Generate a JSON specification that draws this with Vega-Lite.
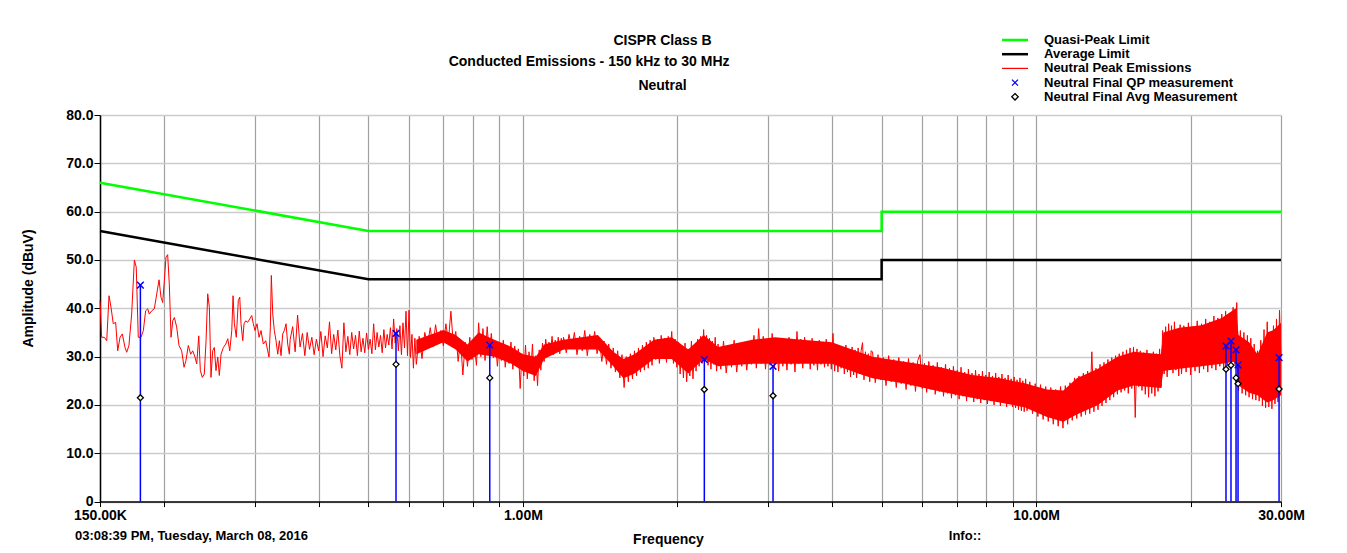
{
"$schema": "https://vega.github.io/schema/vega-lite/v6.json",
"width": 1181, "height": 386.6,
"autosize": {"type": "none"},
"padding": {"left": 100, "top": 115, "right": 66, "bottom": 51.4},
"background": "white",
"config": {"font": "Liberation Sans", "view": {"stroke": null}},
"title": {"text": ["CISPR Class B", "Neutral"], "font": "Liberation Sans", "fontSize": 14, "fontWeight": "bold", "color": "black", "lineHeight": 45, "anchor": "middle", "dx": -28, "offset": -59},
"datasets": {
"limits": [
{"series":"Quasi-Peak Limit","f":0.15,"v":66,"seq":1},
{"series":"Quasi-Peak Limit","f":0.5,"v":56,"seq":2},
{"series":"Quasi-Peak Limit","f":5,"v":56,"seq":3},
{"series":"Quasi-Peak Limit","f":5,"v":60,"seq":4},
{"series":"Quasi-Peak Limit","f":30,"v":60,"seq":5},
{"series":"Average Limit","f":0.15,"v":56,"seq":1},
{"series":"Average Limit","f":0.5,"v":46,"seq":2},
{"series":"Average Limit","f":5,"v":46,"seq":3},
{"series":"Average Limit","f":5,"v":50,"seq":4},
{"series":"Average Limit","f":30,"v":50,"seq":5}
],
"meas": [
{"f":0.1798,"qp":44.8,"avg":21.5},
{"f":0.566,"qp":34.8,"avg":28.4},
{"f":0.862,"qp":32.4,"avg":25.6},
{"f":2.257,"qp":29.4,"avg":23.2},
{"f":3.072,"qp":28.0,"avg":21.9},
{"f":23.44,"qp":32.2,"avg":27.4},
{"f":23.97,"qp":33.2,"avg":28.2},
{"f":24.52,"qp":31.4,"avg":25.6},
{"f":24.74,"qp":28.3,"avg":24.4},
{"f":29.74,"qp":29.8,"avg":23.3}
],
"band": [
{"f":0.62,"lo":30.5,"hi":33.5},{"f":0.7,"lo":33,"hi":35.5},{"f":0.74,"lo":31.5,"hi":34.5},{"f":0.78,"lo":29,"hi":32.5},{"f":0.82,"lo":30.5,"hi":35},{"f":0.88,"lo":30,"hi":33.5},{"f":0.95,"lo":28.5,"hi":32},{"f":1.0,"lo":27,"hi":30.5},{"f":1.06,"lo":26,"hi":30},{"f":1.1,"lo":29.5,"hi":32.5},{"f":1.2,"lo":31.5,"hi":33.5},{"f":1.4,"lo":31.5,"hi":34.5},{"f":1.5,"lo":28,"hi":31},{"f":1.57,"lo":25.5,"hi":29.5},{"f":1.65,"lo":26.5,"hi":30.5},{"f":1.8,"lo":29.5,"hi":33.5},{"f":1.95,"lo":29.5,"hi":34},{"f":2.1,"lo":26.5,"hi":31.5},{"f":2.25,"lo":29.5,"hi":34.5},{"f":2.4,"lo":28,"hi":32},{"f":2.8,"lo":28.5,"hi":33.5},{"f":3.1,"lo":28.5,"hi":34},{"f":3.5,"lo":28.5,"hi":33.5},{"f":4.0,"lo":28.5,"hi":33},{"f":4.5,"lo":26.5,"hi":31},{"f":4.8,"lo":25.5,"hi":30},{"f":5.5,"lo":24.5,"hi":29},{"f":6.5,"lo":22.8,"hi":27.8},{"f":7.5,"lo":21.5,"hi":26.2},{"f":8.5,"lo":20.5,"hi":25.5},{"f":9.5,"lo":19.5,"hi":24.5},{"f":10.5,"lo":17.5,"hi":23.2},{"f":11.3,"lo":16.5,"hi":23},{"f":12.0,"lo":18,"hi":25.5},{"f":13.2,"lo":20,"hi":27.5},{"f":14.4,"lo":23,"hi":30},{"f":15.5,"lo":24,"hi":31},{"f":17.5,"lo":23.5,"hi":30.5},{"f":17.7,"lo":27,"hi":35},{"f":19,"lo":27.5,"hi":36},{"f":21,"lo":28,"hi":36.5},{"f":23,"lo":28.5,"hi":38},{"f":24.5,"lo":29,"hi":40},{"f":24.8,"lo":24,"hi":34.5},{"f":26,"lo":22.5,"hi":33},{"f":27,"lo":22,"hi":30.5},{"f":28.2,"lo":20.5,"hi":35},{"f":29,"lo":21,"hi":35.5},{"f":30,"lo":22,"hi":37}
],
"peak": [
{"f":0.15,"v":41.6},{"f":0.1511,"v":34},{"f":0.1529,"v":34},{"f":0.1546,"v":33.3},{"f":0.1562,"v":42.6},{"f":0.1576,"v":40.2},{"f":0.1592,"v":36.8},{"f":0.1609,"v":37.1},{"f":0.1624,"v":31.2},{"f":0.1641,"v":34},{"f":0.1658,"v":34.7},{"f":0.1678,"v":31.9},{"f":0.1691,"v":30.9},{"f":0.1708,"v":32.3},{"f":0.1729,"v":38.8},{"f":0.175,"v":50},{"f":0.1765,"v":48.5},{"f":0.1781,"v":34},{"f":0.1803,"v":34},{"f":0.1822,"v":35.4},{"f":0.1841,"v":39.5},{"f":0.1858,"v":39.9},{"f":0.1871,"v":38.8},{"f":0.1892,"v":39.5},{"f":0.1914,"v":39.9},{"f":0.1935,"v":43},{"f":0.1955,"v":45.9},{"f":0.1972,"v":42.3},{"f":0.1987,"v":41.2},{"f":0.2002,"v":45.7},{"f":0.2017,"v":50.6},{"f":0.2032,"v":51.1},{"f":0.2047,"v":45},{"f":0.2063,"v":34},{"f":0.2079,"v":37.4},{"f":0.2094,"v":38.1},{"f":0.2116,"v":36.1},{"f":0.2138,"v":32.3},{"f":0.2164,"v":31.2},{"f":0.2187,"v":27.8},{"f":0.2206,"v":29.2},{"f":0.2229,"v":32.3},{"f":0.2253,"v":30.5},{"f":0.2274,"v":31.2},{"f":0.2297,"v":29.9},{"f":0.2315,"v":28.5},{"f":0.2336,"v":34.3},{"f":0.2353,"v":27.1},{"f":0.2374,"v":25.7},{"f":0.2395,"v":26.4},{"f":0.2414,"v":33.3},{"f":0.2432,"v":43},{"f":0.245,"v":40.2},{"f":0.2468,"v":25.7},{"f":0.2487,"v":31.2},{"f":0.2505,"v":31.9},{"f":0.2524,"v":27.1},{"f":0.2544,"v":29.9},{"f":0.2562,"v":26.1},{"f":0.2582,"v":30.5},{"f":0.2609,"v":31.9},{"f":0.2637,"v":32.6},{"f":0.2661,"v":33.7},{"f":0.2685,"v":31.2},{"f":0.2709,"v":35.4},{"f":0.2725,"v":42.6},{"f":0.2741,"v":36.8},{"f":0.2765,"v":34},{"f":0.279,"v":41.6},{"f":0.2808,"v":42.3},{"f":0.2824,"v":36.8},{"f":0.2846,"v":33.3},{"f":0.2862,"v":36.8},{"f":0.2884,"v":37.4},{"f":0.291,"v":37.1},{"f":0.2937,"v":37.8},{"f":0.2963,"v":38.5},{"f":0.2984,"v":36.8},{"f":0.3007,"v":35.4},{"f":0.3034,"v":36.8},{"f":0.3062,"v":34},{"f":0.3089,"v":35.4},{"f":0.3121,"v":32.6},{"f":0.3155,"v":33.3},{"f":0.3183,"v":31.2},{"f":0.3202,"v":29.9},{"f":0.3221,"v":36.1},{"f":0.3235,"v":46.8},{"f":0.3256,"v":38.8},{"f":0.3279,"v":35.4},{"f":0.3304,"v":33.3},{"f":0.333,"v":30.5},{"f":0.3354,"v":33.3},{"f":0.3379,"v":30.2},{"f":0.3405,"v":34.7},{"f":0.343,"v":35.4},{"f":0.3456,"v":36.8},{"f":0.3482,"v":32.6},{"f":0.3508,"v":30.5},
{"f":0.352,"v":33.5},{"f":0.356,"v":36.2},{"f":0.36,"v":31},{"f":0.364,"v":38.6},{"f":0.368,"v":32},{"f":0.372,"v":34.8},{"f":0.376,"v":30.2},{"f":0.38,"v":35},{"f":0.384,"v":31.5},{"f":0.388,"v":34},{"f":0.392,"v":30.4},{"f":0.396,"v":33.6},{"f":0.4,"v":31.2},{"f":0.404,"v":35.2},{"f":0.408,"v":30},{"f":0.412,"v":34.3},{"f":0.416,"v":31.8},{"f":0.42,"v":37.2},{"f":0.424,"v":30.6},{"f":0.428,"v":34.6},{"f":0.432,"v":31.4},{"f":0.436,"v":35.5},{"f":0.44,"v":30.2},{"f":0.444,"v":27.6},{"f":0.448,"v":37},{"f":0.452,"v":31},{"f":0.456,"v":34.2},{"f":0.46,"v":30.4},{"f":0.464,"v":35},{"f":0.468,"v":31.6},{"f":0.472,"v":34.4},{"f":0.476,"v":30.2},{"f":0.48,"v":35.3},{"f":0.484,"v":31},{"f":0.488,"v":33.8},{"f":0.492,"v":30.8},{"f":0.496,"v":34.9},{"f":0.5,"v":31.5},{"f":0.504,"v":33.6},{"f":0.508,"v":30.6},{"f":0.512,"v":36.8},{"f":0.516,"v":31.4},{"f":0.52,"v":35},{"f":0.524,"v":32},{"f":0.528,"v":34.4},{"f":0.532,"v":30.8},{"f":0.536,"v":35.6},{"f":0.54,"v":31.8},{"f":0.544,"v":34.6},{"f":0.548,"v":32.4},{"f":0.552,"v":36},{"f":0.556,"v":31.6},{"f":0.56,"v":37.8},{"f":0.564,"v":32.8},{"f":0.568,"v":35.8},{"f":0.572,"v":31.2},{"f":0.576,"v":36.4},{"f":0.58,"v":30.4},{"f":0.584,"v":37},{"f":0.588,"v":31.8},{"f":0.592,"v":39.4},{"f":0.596,"v":30.2},{"f":0.6,"v":39.6},{"f":0.604,"v":29.8},{"f":0.608,"v":34.6},{"f":0.612,"v":27.6},{"f":0.616,"v":33.8},{"f":0.62,"v":28.4},
{"f":0.628,"v":34.2},{"f":0.636,"v":29.6},{"f":0.644,"v":35},{"f":0.652,"v":32.4},{"f":0.66,"v":36},{"f":0.668,"v":32},{"f":0.676,"v":36.6},{"f":0.684,"v":33},{"f":0.692,"v":35.4},{"f":0.7,"v":32.2},{"f":0.708,"v":36.8},{"f":0.716,"v":33.2},{"f":0.724,"v":39.4},{"f":0.732,"v":32.6},{"f":0.74,"v":35.2},{"f":0.748,"v":29},{"f":0.756,"v":33.6},{"f":0.764,"v":26.2},{"f":0.772,"v":33},{"f":0.78,"v":28},{"f":0.788,"v":34},{"f":0.796,"v":29.4},{"f":0.804,"v":32.6},{"f":0.812,"v":28.2},{"f":0.82,"v":37},{"f":0.828,"v":30},{"f":0.836,"v":35.8},{"f":0.844,"v":29.2},{"f":0.852,"v":36.2},{"f":0.86,"v":30.6},{"f":0.868,"v":34.8},{"f":0.876,"v":29.8},{"f":0.884,"v":33.2},{"f":0.892,"v":28},{"f":0.9,"v":32.8},{"f":0.908,"v":29.2},{"f":0.916,"v":33.4},{"f":0.924,"v":27.8},{"f":0.932,"v":31.8},{"f":0.94,"v":28.6},{"f":0.948,"v":33},{"f":0.956,"v":27.4},{"f":0.964,"v":32.2},{"f":0.972,"v":28.8},{"f":0.98,"v":31.6},{"f":0.988,"v":23.4},{"f":0.996,"v":30.6},{"f":1.004,"v":26},{"f":1.012,"v":32.4},{"f":1.02,"v":25.4},{"f":1.028,"v":31},{"f":1.036,"v":26.6},{"f":1.044,"v":32.6},{"f":1.052,"v":25},{"f":1.06,"v":30.2},{"f":1.068,"v":24},{"f":1.076,"v":31.4},{"f":1.084,"v":27.2},{"f":1.092,"v":32.8},{"f":1.1,"v":29},{"f":1.108,"v":33.6},{"f":1.116,"v":30.6},{"f":1.124,"v":33},{"f":1.132,"v":31},{"f":1.14,"v":34.2},{"f":1.148,"v":30.4},{"f":1.156,"v":33.4},{"f":1.164,"v":31.2},{"f":1.172,"v":34},{"f":1.18,"v":30.6},{"f":1.188,"v":33.8},{"f":1.196,"v":31.4},
{"f":1.2,"v":34},{"f":1.215,"v":30.8},{"f":1.23,"v":34.6},{"f":1.245,"v":31.6},{"f":1.26,"v":35},{"f":1.275,"v":30.4},{"f":1.29,"v":34.2},{"f":1.305,"v":31.2},{"f":1.32,"v":35.4},{"f":1.335,"v":30.2},{"f":1.35,"v":34.6},{"f":1.365,"v":31.8},{"f":1.38,"v":35.2},{"f":1.395,"v":30.6},{"f":1.41,"v":33.6},{"f":1.425,"v":29},{"f":1.44,"v":33.2},{"f":1.455,"v":28.4},{"f":1.47,"v":32.6},{"f":1.485,"v":27.6},{"f":1.5,"v":31.8},{"f":1.515,"v":26.8},{"f":1.53,"v":31.2},{"f":1.545,"v":25.6},{"f":1.56,"v":30.4},{"f":1.575,"v":23.6},{"f":1.59,"v":30},{"f":1.605,"v":24.8},{"f":1.62,"v":30.6},{"f":1.635,"v":25.4},{"f":1.65,"v":31.2},{"f":1.665,"v":26},{"f":1.68,"v":31.8},{"f":1.695,"v":26.8},{"f":1.71,"v":32.4},{"f":1.725,"v":27.2},{"f":1.74,"v":33},{"f":1.755,"v":27.6},{"f":1.77,"v":33.4},{"f":1.785,"v":28.2},{"f":1.8,"v":34},{"f":1.815,"v":29.4},{"f":1.83,"v":33.6},{"f":1.845,"v":28.6},{"f":1.86,"v":34.4},{"f":1.875,"v":29.6},{"f":1.89,"v":33.8},{"f":1.905,"v":28.8},{"f":1.92,"v":34.2},{"f":1.935,"v":30.2},{"f":1.95,"v":35.2},{"f":1.965,"v":28.6},{"f":1.98,"v":33.6},{"f":1.995,"v":27.8},{"f":2.01,"v":33},{"f":2.025,"v":26.4},{"f":2.04,"v":32.2},{"f":2.055,"v":25.6},{"f":2.07,"v":32.8},{"f":2.085,"v":24.8},{"f":2.1,"v":31.6},{"f":2.115,"v":26},{"f":2.13,"v":33.2},{"f":2.145,"v":25.4},{"f":2.16,"v":32},{"f":2.175,"v":27},{"f":2.19,"v":33.6},{"f":2.205,"v":28},{"f":2.22,"v":34.2},{"f":2.235,"v":28.6},{"f":2.25,"v":35.6},{"f":2.265,"v":29.2},{"f":2.28,"v":34.4},{"f":2.295,"v":28.2},{"f":2.31,"v":33.8},{"f":2.325,"v":27.4},{"f":2.34,"v":33.2},{"f":2.355,"v":28.4},{"f":2.37,"v":34},{"f":2.385,"v":27},
{"f":2.4,"v":32.6},{"f":2.43,"v":27.4},{"f":2.46,"v":33.2},{"f":2.49,"v":26.6},{"f":2.52,"v":32},{"f":2.55,"v":27.8},{"f":2.58,"v":33.4},{"f":2.61,"v":26.8},{"f":2.64,"v":32.4},{"f":2.67,"v":28},{"f":2.7,"v":33},{"f":2.73,"v":27.2},{"f":2.76,"v":31.8},{"f":2.79,"v":28.4},{"f":2.82,"v":34.4},{"f":2.85,"v":27.6},{"f":2.88,"v":35.8},{"f":2.91,"v":28.6},{"f":2.94,"v":34.2},{"f":2.97,"v":27.4},{"f":3.0,"v":33.6},{"f":3.03,"v":28.2},{"f":3.06,"v":34.8},{"f":3.09,"v":27.8},{"f":3.12,"v":33},{"f":3.15,"v":27},{"f":3.18,"v":33.8},{"f":3.21,"v":28},{"f":3.24,"v":32.6},{"f":3.27,"v":27.2},{"f":3.3,"v":34},{"f":3.33,"v":28.4},{"f":3.36,"v":33.2},{"f":3.39,"v":26.8},{"f":3.42,"v":35.2},{"f":3.45,"v":28.6},{"f":3.48,"v":33.6},{"f":3.51,"v":27.6},{"f":3.54,"v":34},{"f":3.57,"v":28.8},{"f":3.6,"v":32.8},{"f":3.63,"v":27.4},{"f":3.66,"v":33.8},{"f":3.69,"v":28.2},{"f":3.72,"v":32.6},{"f":3.75,"v":27.2},{"f":3.78,"v":33.4},{"f":3.81,"v":28.4},{"f":3.84,"v":32.2},{"f":3.87,"v":27.8},{"f":3.9,"v":33.6},{"f":3.93,"v":28},{"f":3.96,"v":32.4},{"f":3.99,"v":27.4},{"f":4.02,"v":34.8},{"f":4.05,"v":27},{"f":4.08,"v":32.6},{"f":4.11,"v":26.8},{"f":4.14,"v":32.2},{"f":4.17,"v":27.6},{"f":4.2,"v":31.8},{"f":4.23,"v":26.4},{"f":4.26,"v":32.4},{"f":4.29,"v":26.8},{"f":4.32,"v":31.6},{"f":4.35,"v":25.8},{"f":4.38,"v":32},{"f":4.41,"v":26.2},{"f":4.44,"v":31.4},{"f":4.47,"v":25.6},{"f":4.5,"v":31.8},{"f":4.53,"v":26.4},{"f":4.56,"v":31.2},{"f":4.59,"v":32.9},{"f":4.62,"v":25.2},{"f":4.65,"v":31},{"f":4.68,"v":26},{"f":4.71,"v":30.6},{"f":4.74,"v":24.8},{"f":4.77,"v":31.2},
{"f":4.8,"v":31},{"f":4.86,"v":24.6},{"f":4.92,"v":30.4},{"f":4.98,"v":25.2},{"f":5.04,"v":29.8},{"f":5.1,"v":24},{"f":5.16,"v":30.2},{"f":5.22,"v":24.8},{"f":5.28,"v":29.4},{"f":5.34,"v":23.6},{"f":5.4,"v":29.8},{"f":5.46,"v":24.4},{"f":5.52,"v":29},{"f":5.58,"v":23.2},{"f":5.64,"v":29.6},{"f":5.7,"v":24},{"f":5.76,"v":28.8},{"f":5.82,"v":22.8},{"f":5.88,"v":29.2},{"f":5.94,"v":30.4},{"f":6.0,"v":23.4},{"f":6.06,"v":28.6},{"f":6.12,"v":22.6},{"f":6.18,"v":29},{"f":6.24,"v":23.2},{"f":6.3,"v":28.2},{"f":6.36,"v":22.2},{"f":6.42,"v":28.8},{"f":6.48,"v":22.8},{"f":6.54,"v":27.8},{"f":6.6,"v":21.8},{"f":6.66,"v":28.4},{"f":6.72,"v":22.4},{"f":6.78,"v":27.6},{"f":6.84,"v":21.4},{"f":6.9,"v":28},{"f":6.96,"v":22},{"f":7.02,"v":27.2},{"f":7.08,"v":21.2},{"f":7.14,"v":27.8},{"f":7.2,"v":21.8},{"f":7.26,"v":26.8},{"f":7.32,"v":20.8},{"f":7.38,"v":27.4},{"f":7.44,"v":21.6},{"f":7.5,"v":26.6},{"f":7.56,"v":20.6},{"f":7.62,"v":27.2},{"f":7.68,"v":21.2},{"f":7.74,"v":26.4},{"f":7.8,"v":20.4},{"f":7.86,"v":27},{"f":7.92,"v":21},{"f":7.98,"v":26.2},{"f":8.04,"v":20.2},{"f":8.1,"v":26.8},{"f":8.16,"v":20.8},{"f":8.22,"v":26},{"f":8.28,"v":20},{"f":8.34,"v":26.6},{"f":8.4,"v":20.6},{"f":8.46,"v":25.8},{"f":8.52,"v":19.8},{"f":8.58,"v":26.4},{"f":8.64,"v":20.4},{"f":8.7,"v":25.6},{"f":8.76,"v":19.6},{"f":8.82,"v":26.2},{"f":8.88,"v":20.2},{"f":8.94,"v":25.4},{"f":9.0,"v":19.6},{"f":9.06,"v":25.8},{"f":9.12,"v":19.4},{"f":9.18,"v":25.2},{"f":9.24,"v":19},{"f":9.3,"v":25.6},{"f":9.36,"v":18.8},{"f":9.42,"v":25},{"f":9.48,"v":18.6},{"f":9.54,"v":25.4},
{"f":9.6,"v":18.8},{"f":9.72,"v":24.8},{"f":9.84,"v":18.2},{"f":9.96,"v":24.4},{"f":10.08,"v":17.6},{"f":10.2,"v":24.2},{"f":10.32,"v":17},{"f":10.44,"v":23.8},{"f":10.56,"v":16.6},{"f":10.68,"v":23.6},{"f":10.8,"v":16},{"f":10.92,"v":23.2},{"f":11.04,"v":15.6},{"f":11.16,"v":23.8},{"f":11.28,"v":15.2},{"f":11.4,"v":24},{"f":11.52,"v":16},{"f":11.64,"v":24.6},{"f":11.76,"v":16.8},{"f":11.88,"v":25.6},{"f":12.0,"v":17.2},{"f":12.12,"v":26},{"f":12.24,"v":17.6},{"f":12.36,"v":26.6},{"f":12.48,"v":18},{"f":12.6,"v":27},{"f":12.72,"v":18.2},{"f":12.84,"v":31},{"f":12.96,"v":18.6},{"f":13.08,"v":27.6},{"f":13.2,"v":19},{"f":13.32,"v":28.4},{"f":13.44,"v":19.8},{"f":13.56,"v":28.8},{"f":13.68,"v":20.4},{"f":13.8,"v":29.4},{"f":13.92,"v":21},{"f":14.04,"v":29.8},{"f":14.16,"v":21.6},{"f":14.28,"v":30.2},{"f":14.4,"v":22.2},{"f":14.52,"v":30.6},{"f":14.64,"v":22.6},{"f":14.76,"v":31},{"f":14.88,"v":23},{"f":15.0,"v":31.4},{"f":15.12,"v":22.4},{"f":15.24,"v":31.8},{"f":15.36,"v":23.4},{"f":15.48,"v":32},{"f":15.6,"v":17.4},{"f":15.72,"v":31.6},{"f":15.84,"v":23.8},{"f":15.96,"v":31.2},{"f":16.08,"v":23},{"f":16.2,"v":30.8},{"f":16.32,"v":22.2},{"f":16.44,"v":31.4},{"f":16.56,"v":21.6},{"f":16.68,"v":30.4},{"f":16.8,"v":22.4},{"f":16.92,"v":31},{"f":17.04,"v":21.8},{"f":17.16,"v":30.6},{"f":17.28,"v":22.8},{"f":17.4,"v":31.6},{"f":17.52,"v":23.6},{"f":17.64,"v":35.4},{"f":17.76,"v":26.4},{"f":17.88,"v":36.2},{"f":18.0,"v":25.8},{"f":18.12,"v":36.8},{"f":18.24,"v":27.6},{"f":18.36,"v":36.4},{"f":18.48,"v":26.6},{"f":18.6,"v":37.2},{"f":18.72,"v":27.2},{"f":18.84,"v":35.6},{"f":18.96,"v":26},{"f":19.08,"v":36.6},
{"f":19.2,"v":26.4},{"f":19.4,"v":36.4},{"f":19.6,"v":26.8},{"f":19.8,"v":37},{"f":20.0,"v":26.2},{"f":20.2,"v":36.2},{"f":20.4,"v":27},{"f":20.6,"v":37.4},{"f":20.8,"v":26.6},{"f":21.0,"v":36.8},{"f":21.2,"v":27.4},{"f":21.4,"v":37.8},{"f":21.6,"v":26.8},{"f":21.8,"v":37.2},{"f":22.0,"v":27.6},{"f":22.2,"v":38.4},{"f":22.4,"v":27.2},{"f":22.6,"v":38},{"f":22.8,"v":28},{"f":23.0,"v":38.8},{"f":23.2,"v":27.4},{"f":23.4,"v":39.4},{"f":23.6,"v":28.2},{"f":23.8,"v":39},{"f":24.0,"v":27.8},{"f":24.2,"v":40.2},{"f":24.4,"v":28.4},{"f":24.6,"v":41.2},{"f":24.8,"v":23},{"f":25.0,"v":35.4},{"f":25.2,"v":22.4},{"f":25.4,"v":35},{"f":25.6,"v":22},{"f":25.8,"v":34.4},{"f":26.0,"v":21.6},{"f":26.2,"v":33.8},{"f":26.4,"v":21.2},{"f":26.6,"v":32.6},{"f":26.8,"v":21},{"f":27.0,"v":31.2},{"f":27.2,"v":20.8},{"f":27.4,"v":33.4},{"f":27.6,"v":19.8},{"f":27.8,"v":35.6},{"f":28.0,"v":19.4},{"f":28.2,"v":37.2},{"f":28.4,"v":19.6},{"f":28.6,"v":34.6},{"f":28.8,"v":19.2},{"f":29.0,"v":36.4},{"f":29.2,"v":20.2},{"f":29.4,"v":37.8},{"f":29.6,"v":20.6},{"f":29.8,"v":39.6},{"f":30.0,"v":30}
]
},
"layer": [
{
"data": {"name": "limits"},
"mark": {"type": "line", "strokeWidth": 2.5},
"encoding": {
"x": {"field": "f", "type": "quantitative",
 "scale": {"type": "log", "domain": [0.15, 30], "nice": false},
 "axis": {"values": [0.15,0.2,0.3,0.4,0.5,0.6,0.7,0.8,0.9,1,2,3,4,5,6,7,8,9,10,20,30],
  "labelExpr": "datum.value == 0.15 ? '150.00K' : datum.value == 1 ? '1.00M' : datum.value == 10 ? '10.00M' : datum.value == 30 ? '30.00M' : ''",
  "title": "Frequency", "titleFont": "Liberation Sans", "titleFontSize": 14, "titleFontWeight": "bold", "titleColor": "black",
  "titleX": 568, "titleY": 38, "titleBaseline": "middle", "titleAlign": "center",
  "labelFont": "Liberation Sans", "labelFontSize": 14, "labelFontWeight": "bold", "labelColor": "black",
  "labelPadding": 2, "labelFlush": false, "labelOverlap": false, "labelBound": false,
  "tickSize": 5, "tickColor": "black", "tickWidth": 1,
  "domainColor": "black", "domainWidth": 1.5,
  "grid": true, "gridColor": "#a0a0a0", "gridWidth": 1.2}},
"y": {"field": "v", "type": "quantitative",
 "scale": {"domain": [0, 80], "nice": false, "zero": false},
 "axis": {"values": [0,10,20,30,40,50,60,70,80],
  "labelExpr": "datum.value === 0 ? '0' : format(datum.value, '.1f')",
  "title": "Amplitude (dBuV)", "titleFont": "Liberation Sans", "titleFontSize": 14, "titleFontWeight": "bold", "titleColor": "black",
  "titleAngle": 270, "titleX": -72, "titleY": 173, "titleBaseline": "middle", "titleAlign": "center",
  "labelFont": "Liberation Sans", "labelFontSize": 14, "labelFontWeight": "bold", "labelColor": "black",
  "labelPadding": 1, "labelFlush": false, "labelOverlap": false, "labelBound": false,
  "tickSize": 6, "tickColor": "black", "tickWidth": 1,
  "domainColor": "black", "domainWidth": 1.5,
  "grid": true, "gridColor": "#cccccc", "gridWidth": 1.5}},
"color": {"field": "series", "type": "nominal",
 "scale": {"domain": ["Quasi-Peak Limit", "Average Limit", "Neutral Peak Emissions", "Neutral Final QP measurement", "Neutral Final Avg Measurement"],
           "range": ["#00ff00", "#000000", "#ff0000", "#0000ff", "#000000"]},
 "legend": {"orient": "none", "legendX": 908.5, "legendY": -81.5, "title": null, "padding": 0,
  "symbolSize": 100, "labelFont": "Liberation Sans", "labelFontSize": 13, "labelFontWeight": "bold", "labelColor": "black",
  "labelOffset": 22.5, "labelLimit": 400, "rowPadding": 0.2,
  "encode": {"symbols": {"update": {
   "shape": {"signal": "datum.value === 'Neutral Final QP measurement' ? 'M-0.6,-0.6L0.6,0.6M-0.6,0.6L0.6,-0.6' : datum.value === 'Neutral Final Avg Measurement' ? 'M0,-0.65L0.65,0L0,0.65L-0.65,0Z' : 'M-2.6,0L2.6,0'"},
   "size": {"value": 100},
   "fill": {"signal": "datum.value === 'Neutral Final Avg Measurement' ? '#ffffff' : 'transparent'"},
   "stroke": {"signal": "scale('color', datum.value)"},
   "strokeWidth": {"signal": "datum.value === 'Neutral Peak Emissions' ? 1.2 : (datum.value === 'Quasi-Peak Limit' || datum.value === 'Average Limit') ? 2.5 : 1.3"},
   "opacity": {"value": 1}
  }}}}},
"order": {"field": "seq", "type": "quantitative"}
}
},
{
"data": {"name": "band"},
"mark": {"type": "area", "color": "#ff0000", "opacity": 1},
"encoding": {
"x": {"field": "f", "type": "quantitative"},
"y": {"field": "lo", "type": "quantitative"},
"y2": {"field": "hi"}
}
},
{
"data": {"name": "peak"},
"mark": {"type": "line", "strokeWidth": 1},
"encoding": {
"x": {"field": "f", "type": "quantitative"},
"y": {"field": "v", "type": "quantitative"},
"color": {"datum": "Neutral Peak Emissions"}
}
},
{
"data": {"name": "meas"},
"mark": {"type": "rule", "color": "#0000ff", "strokeWidth": 1.5},
"encoding": {
"x": {"field": "f", "type": "quantitative"},
"y": {"field": "qp", "type": "quantitative"},
"y2": {"datum": 0}
}
},
{
"data": {"name": "meas"},
"mark": {"type": "point", "shape": "M-1,-1L1,1M-1,1L1,-1", "size": 44, "strokeWidth": 1.5, "filled": false, "opacity": 1},
"encoding": {
"x": {"field": "f", "type": "quantitative"},
"y": {"field": "qp", "type": "quantitative"},
"color": {"datum": "Neutral Final QP measurement"}
}
},
{
"data": {"name": "meas"},
"mark": {"type": "point", "shape": "diamond", "size": 36, "strokeWidth": 1.3, "filled": false, "fill": "#ffffff", "fillOpacity": 1, "opacity": 1},
"encoding": {
"x": {"field": "f", "type": "quantitative"},
"y": {"field": "avg", "type": "quantitative"},
"color": {"datum": "Neutral Final Avg Measurement"}
}
},
{
"data": {"values": [{"note": "Conducted Emissions - 150 kHz to 30 MHz"}]},
"mark": {"type": "text", "align": "center", "baseline": "middle", "font": "Liberation Sans", "fontSize": 14, "fontWeight": "bold", "color": "black"},
"encoding": {
"x": {"datum": 1.346, "type": "quantitative"},
"y": {"datum": 90.96, "type": "quantitative"},
"text": {"field": "note"}
}
},
{
"data": {"values": [{"note": "03:08:39 PM, Tuesday, March 08, 2016"}]},
"mark": {"type": "text", "align": "left", "baseline": "middle", "font": "Liberation Sans", "fontSize": 13, "fontWeight": "bold", "color": "black"},
"encoding": {
"x": {"datum": 0.1341, "type": "quantitative"},
"y": {"datum": -7.2, "type": "quantitative"},
"text": {"field": "note"}
}
},
{
"data": {"values": [{"note": "Info::"}]},
"mark": {"type": "text", "align": "center", "baseline": "middle", "font": "Liberation Sans", "fontSize": 13, "fontWeight": "bold", "color": "black"},
"encoding": {
"x": {"datum": 7.27, "type": "quantitative"},
"y": {"datum": -7.2, "type": "quantitative"},
"text": {"field": "note"}
}
}
]
}
